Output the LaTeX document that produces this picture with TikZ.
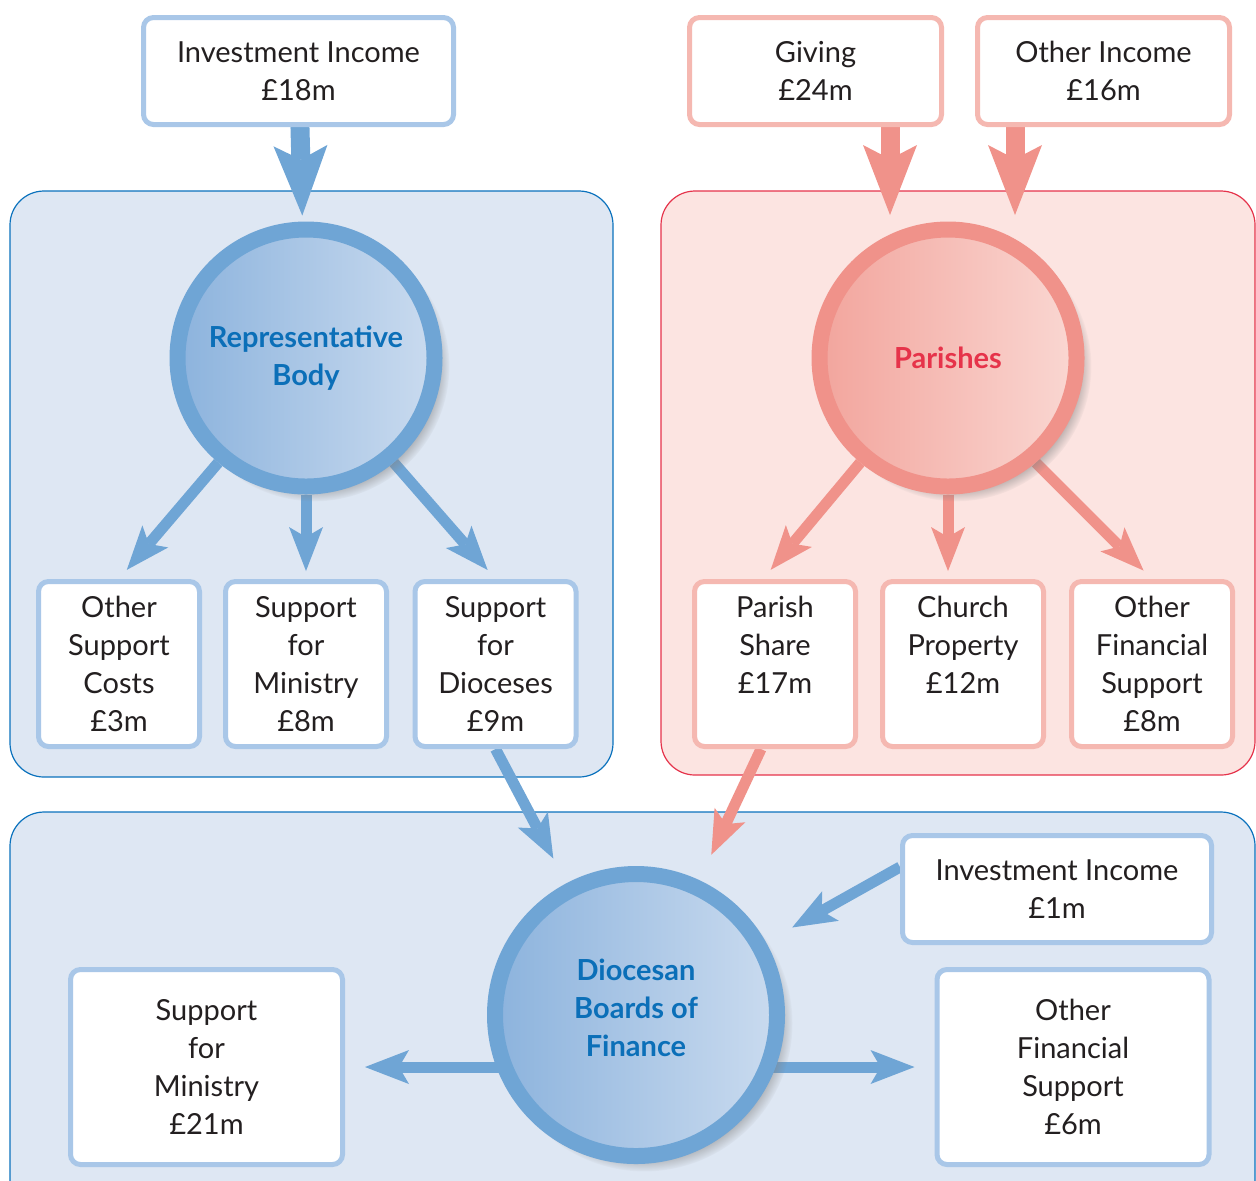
\documentclass[tikz,border=0pt]{standalone}
\usepackage{fontspec}
\setmainfont{Lato}
\usepackage{xcolor}
\usetikzlibrary{arrows.meta,shadows}

\definecolor{ink}{HTML}{231F20}
\definecolor{bluering}{HTML}{6FA5D5}
\definecolor{blueleft}{HTML}{8CB3DD}
\definecolor{blueright}{HTML}{CADBEF}
\definecolor{bluetext}{HTML}{0B6FB8}
\definecolor{blueline}{HTML}{A9C7E8}
\definecolor{blueedge}{HTML}{0B72BD}
\definecolor{bluepanel}{HTML}{DEE7F3}
\definecolor{pinkring}{HTML}{F0928A}
\definecolor{pinkleft}{HTML}{F2A59D}
\definecolor{pinkright}{HTML}{FAD7D2}
\definecolor{pinktext}{HTML}{E6334A}
\definecolor{pinkline}{HTML}{F5B8B1}
\definecolor{pinkedge}{HTML}{E5334B}
\definecolor{pinkpanel}{HTML}{FCE4E1}

\pgfdeclarelayer{panels}
\pgfdeclarelayer{arrows}
\pgfsetlayers{panels,arrows,main}

\begin{document}
\begin{tikzpicture}[
    x=0.5pt,
    y=-0.5pt,
    font=\fontsize{14.5}{19}\selectfont,
    panel/.style={
        draw=#1edge,
        fill=#1panel,
        line width=0.6pt,
        rounded corners=17pt
    },
    hub/.style={
        circle,
        draw=#1ring,
        line width=8pt,
        left color=#1left,
        right color=#1right,
        text=#1text,
        align=center,
        font=\fontsize{14.5}{19}\selectfont\bfseries,
        circular drop shadow={shadow xshift=4pt, shadow yshift=-4pt, shadow scale=1.05, opacity=0.85}
    },
    box/.style={
        rectangle,
        draw=#1line,
        fill=white,
        line width=2.5pt,
        rounded corners=5pt,
        align=center,
        text=ink,
        inner sep=0pt
    },
    small/.style={box=#1, minimum width=80.5pt, minimum height=82.5pt},
    bigflow/.style={draw=#1ring, line width=9.5pt, -{Stealth[length=35pt,width=27pt,inset=7pt,line width=0pt]}},
    flow/.style={draw=#1ring, line width=5.5pt, -{Stealth[length=22pt,width=17pt,inset=5pt,line width=0pt]}}
]

\clip (0,0) rectangle (1256,1180);

\begin{pgfonlayer}{panels}
\draw[panel=blue] (10,191) rectangle (613,777);
\draw[panel=pink] (661,191) rectangle (1255,775);
\draw[panel=blue] (10,812) rectangle (1255,1230);
\end{pgfonlayer}

% sources
\node[box=blue, minimum width=155pt, minimum height=53.5pt] (invinc) at (298.5,71) {Investment Income\\£18m};
\node[box=pink, minimum width=126pt, minimum height=53.5pt] (giving) at (815.5,71) {Giving\\£24m};
\node[box=pink, minimum width=126pt, minimum height=53.5pt] (othinc) at (1103.5,71) {Other Income\\£16m};

% hubs
\node[hub=blue, minimum size=128.5pt] (rb) at (306,358) {Representative\\Body};
\node[hub=pink, minimum size=128.5pt] (par) at (948,358) {Parishes};
\node[hub=blue, minimum size=141pt] (dbf) at (636,1015) {Diocesan\\Boards of\\Finance\\[-12pt]};

% outgoings
\node[small=blue] (osc) at (119,664) {Other\\Support\\Costs\\£3m};
\node[small=blue] (sfm) at (306,664) {Support\\for\\Ministry\\£8m};
\node[small=blue] (sfd) at (495.5,664) {Support\\for\\Dioceses\\£9m};
\node[small=pink] (pshare) at (775,664) {Parish\\Share\\£17m\\\mbox{}};
\node[small=pink] (cprop) at (963,664) {Church\\Property\\£12m\\\mbox{}};
\node[small=pink] (ofs) at (1152,664) {Other\\Financial\\Support\\£8m};

\node[box=blue, minimum width=154.5pt, minimum height=53.5pt] (invinc1) at (1057,889) {Investment Income\\£1m};
\node[box=blue, minimum width=136pt, minimum height=97.5pt] (sfm21) at (206.5,1067) {Support\\for\\Ministry\\£21m};
\node[box=blue, minimum width=136pt, minimum height=97.5pt] (ofs6) at (1073,1067) {Other\\Financial\\Support\\£6m};

\coordinate (givtip) at (890,215);
\coordinate (othtip) at (1015,215);

\begin{pgfonlayer}{arrows}
\draw[bigflow=blue, shorten >=3pt] (invinc) -- (rb);
\draw[bigflow=pink] (giving.south -| givtip) -- (givtip);
\draw[bigflow=pink] (othinc.south -| othtip) -- (othtip);

\draw[flow=blue, shorten >=6pt] (rb.230) -- (osc.north);
\draw[flow=blue, shorten >=4pt] (rb) -- (rb |- sfm.north);
\draw[flow=blue, shorten >=6pt] (rb.310) -- (sfd.north);
\draw[flow=pink, shorten >=6pt] (par.230) -- ([xshift=-6pt]pshare.north);
\draw[flow=pink, shorten >=4pt] (par) -- (par |- cprop.north);
\draw[flow=pink, shorten >=6pt] (par.310) -- (ofs.north);

\draw[flow=blue, shorten >=14pt] (sfd.south) -- (dbf);
\draw[flow=pink, shorten >=14pt] ([xshift=-7pt]pshare.south) -- (dbf);
\draw[flow=blue, shorten >=15pt] ([yshift=11pt]invinc1.west) -- (dbf);
\draw[flow=blue, shorten >=10pt] (dbf.center |- sfm21.east) -- (sfm21.east);
\draw[flow=blue, shorten >=10pt] (dbf.center |- ofs6.west) -- (ofs6.west);
\end{pgfonlayer}

\end{tikzpicture}
\end{document}
